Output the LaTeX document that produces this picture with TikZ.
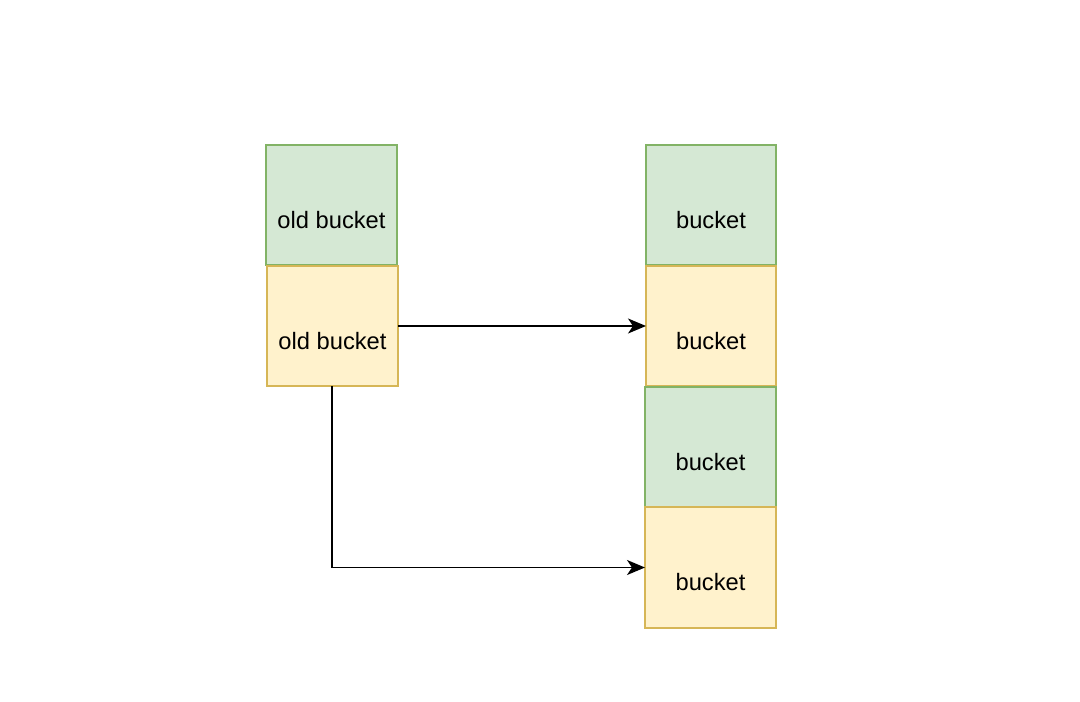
\documentclass[tikz,border=0pt]{standalone}
\usepackage{fontspec}
\setmainfont{Liberation Sans}
\usetikzlibrary{arrows.meta}
\definecolor{gfill}{HTML}{D5E8D4}
\definecolor{gline}{HTML}{82B366}
\definecolor{yfill}{HTML}{FFF2CC}
\definecolor{yline}{HTML}{D6B656}
\tikzset{
  box/.style={rectangle, inner sep=0pt, outer sep=0pt, line width=0.75pt,
    minimum width=65.5pt, minimum height=60pt},
  gbox/.style={box, draw=gline, fill=gfill},
  ybox/.style={box, draw=yline, fill=yfill},
  lbl/.style={anchor=base, inner sep=0pt, font=\fontsize{11.85pt}{14pt}\selectfont},
  conn/.style={draw=black, line width=0.9pt, -{Stealth[length=9pt,width=7.5pt,inset=2.5pt]}}
}
\begin{document}
\begin{tikzpicture}[x=0.5pt,y=-0.5pt]
\useasboundingbox (0,0) rectangle (1080,701);
% left column
\node[gbox] (lg) at (331.5,205) {};
\node[ybox] (ly) at (332.5,326) {};
\node[lbl] (lgt) at (331.5,228) {old bucket};
\node[lbl] (lyt) at (332.5,349) {old bucket};
% right column
\node[gbox, minimum width=65pt] (r1) at (711,205) {};
\node[ybox, minimum width=65pt] (r2) at (711,326) {};
\node[gbox] (r3) at (710.5,447) {};
\node[ybox, minimum height=60.5pt] (r4) at (710.5,567.5) {};
\node[lbl] (r1t) at (711,228) {bucket};
\node[lbl] (r2t) at (711,349) {bucket};
\node[lbl] (r3t) at (710.5,470) {bucket};
\node[lbl] (r4t) at (710.5,590) {bucket};
% connectors
\draw[conn] (ly.east) -- (r2.west);
\draw[conn] ([xshift=-0.25pt]ly.south) |- (r4.west);
\end{tikzpicture}
\end{document}
